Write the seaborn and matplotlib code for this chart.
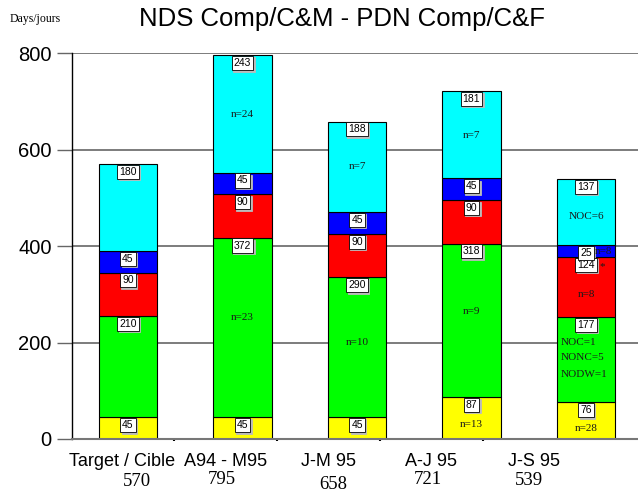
import numpy as np
import pandas as pd
import matplotlib
matplotlib.use("Agg")
import matplotlib.pyplot as plt
import matplotlib.transforms as mtransforms
import seaborn as sns

periods = ["Target / Cible", "A94 - M95", "J-M 95", "A-J 95", "J-S 95"]
seg_yellow = [45, 45, 45, 87, 76]
seg_green = [210, 372, 290, 318, 177]
seg_red = [90, 90, 90, 90, 124]
seg_blue = [45, 45, 45, 45, 25]
seg_cyan = [180, 243, 188, 181, 137]
y_ticks = [0, 200, 400, 600, 800]

# in-bar notes: (bar index, x shift, value, text, alignment)
notes = [
    (1, 0, 673, "n=24", "center"), (1, 0, 251, "n=23", "center"),
    (2, 0, 564, "n=7", "center"), (2, 0, 201, "n=10", "center"),
    (3, 0, 630, "n=7", "center"), (3, 0, 265, "n=9", "center"),
    (3, 0, 31, "n=13", "center"),
    (4, 0, 462, "NOC=6", "center"), (4, 0.15, 389, "n=8", "center"),
    (4, 0.14, 358, "*", "center"), (4, 0, 300, "n=8", "center"),
    (4, -0.22, 201, "NOC=1", "left"), (4, -0.22, 168, "NONC=5", "left"),
    (4, -0.22, 133, "NODW=1", "left"), (4, 0, 21, "n=28", "center"),
]

segments = [("yellow", seg_yellow, "#ffff00"), ("green", seg_green, "#00ff00"),
            ("red", seg_red, "#ff0000"), ("blue", seg_blue, "#0000ff"),
            ("cyan", seg_cyan, "#00ffff")]

df = pd.DataFrame({"period": periods})
for name, vals, _ in segments:
    df[name] = vals
df["total"] = df[[s[0] for s in segments]].sum(axis=1)

sns.set_style("white")
plt.rcParams["font.family"] = ["Liberation Sans", "DejaVu Sans"]
plt.rcParams["text.color"] = "black"
plt.rcParams["xtick.color"] = "black"
plt.rcParams["ytick.color"] = "black"

fig = plt.figure(figsize=(6.38, 4.96), dpi=100)
ax = fig.add_axes([72 / 638, 57 / 496, 566 / 638, 386 / 496])

bottoms = np.zeros(len(df))
for name, vals, color in segments:
    sns.barplot(data=df, x="period", y=name, bottom=bottoms.copy(), color=color,
                saturation=1, width=0.515, edgecolor="black", linewidth=0.8,
                errorbar=None, ax=ax, zorder=2)
    tops = bottoms + df[name].values
    for i, (v, t) in enumerate(zip(df[name], tops)):
        # light drop shadow, then the boxed value
        ax.annotate(str(v), (i, t), xytext=(1, -3), textcoords="offset points",
                    ha="center", va="top", fontsize=7.5, zorder=4, color="#bbbbbb",
                    bbox=dict(boxstyle="square,pad=0.2", fc="#bbbbbb", ec="#bbbbbb", lw=0.6))
        ax.annotate(str(v), (i, t), xytext=(0, -2), textcoords="offset points",
                    ha="center", va="top", fontsize=7.5, zorder=5,
                    bbox=dict(boxstyle="square,pad=0.2", fc="white", ec="black", lw=0.6))
    bottoms = tops

for i, dx, v, txt, ha in notes:
    ax.text(i + dx, v, txt, ha=ha, va="center", fontsize=8, family="Liberation Serif",
            color="#1a1a1a", zorder=6)

ax.set_xlim(-0.489, 4.454)
ax.set_ylim(0, 800)
ax.set_xlabel("")
ax.set_ylabel("")

# axis ticks
label_pos = [i * 0.9 - 0.05 for i in range(len(periods))]
ax.set_xticks(label_pos)
ax.set_xticklabels(periods, fontsize=13)
ax.set_xticks([i * 0.9 + 0.4 for i in range(len(periods) - 1)], minor=True)
ax.tick_params(axis="x", which="major", length=0, pad=10)
ax.tick_params(axis="x", which="minor", bottom=True, length=1.5, width=1.5,
               color="black", direction="out")
ax.set_yticks(y_ticks)
ax.tick_params(axis="y", which="major", left=True, length=10.5, width=1, color="#666666",
               labelsize=14.5, pad=4, direction="out")
ax.yaxis.grid(True, color="#666666", lw=1.2)
ax.set_axisbelow(True)

for s in ["top", "right"]:
    ax.spines[s].set_visible(False)
ax.spines["left"].set_color("black")
ax.spines["left"].set_linewidth(1)
ax.spines["bottom"].set_color("#777777")
ax.spines["bottom"].set_linewidth(1.5)

# totals under the category names
total_x = [0.079, 0.821, 1.790, 2.620, 3.502]
total_y = [-0.110, -0.104, -0.117, -0.104, -0.107]
trans = mtransforms.blended_transform_factory(ax.transData, ax.transAxes)
for x, y, tot in zip(total_x, total_y, df["total"]):
    ax.text(x, y, str(tot), transform=trans, ha="center", va="center",
            fontsize=13.5, family="Liberation Serif")

fig.text(342 / 638, 1 - 19 / 496, "NDS Comp/C&M - PDN Comp/C&F", ha="center",
         va="center", fontsize=18.5)
fig.text(10 / 638, 1 - 19 / 496, "Days/jours", ha="left", va="center",
         fontsize=8.5, family="Liberation Serif")

fig.savefig("out.png", dpi=100)
